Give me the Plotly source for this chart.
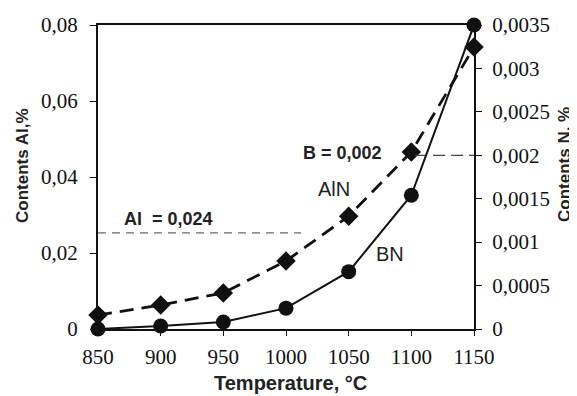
import plotly.graph_objects as go

temps = [850, 900, 950, 1000, 1050, 1100, 1150]
aln_al = [0.0037, 0.0063, 0.0095, 0.0179, 0.0297, 0.0466, 0.0742]   # left axis (Al, %)
bn_n = [0.0, 0.000035, 0.00008, 0.00024, 0.00066, 0.00154, 0.0035]   # right axis (N, %)

left_ticks = [0, 0.02, 0.04, 0.06, 0.08]
left_labels = ["0", "0,02", "0,04", "0,06", "0,08"]
right_ticks = [0, 0.0005, 0.001, 0.0015, 0.002, 0.0025, 0.003, 0.0035]
right_labels = ["0", "0,0005", "0,001", "0,0015", "0,002", "0,0025", "0,003", "0,0035"]
x_ticks = [850, 900, 950, 1000, 1050, 1100, 1150]

al_level_x = [850, 1012]
al_level_y = [0.0253, 0.0253]
b_level_x = [1103, 1150]
b_level_y = [0.002, 0.002]

fig = go.Figure()

fig.add_trace(go.Scatter(x=al_level_x, y=al_level_y, mode="lines",
                         line=dict(color="#666666", width=1.2, dash="8px,6px"),
                         showlegend=False, hoverinfo="skip"))
fig.add_trace(go.Scatter(x=b_level_x, y=b_level_y, mode="lines", yaxis="y2",
                         line=dict(color="#444444", width=1.2, dash="12px,6px"),
                         showlegend=False, hoverinfo="skip"))

fig.add_trace(go.Scatter(x=temps, y=aln_al, mode="lines+markers", name="AlN",
                         line=dict(color="#111111", width=2.8, dash="14px,8px"),
                         marker=dict(symbol="diamond", size=15, color="#111111"),
                         cliponaxis=False, showlegend=False))
fig.add_trace(go.Scatter(x=temps, y=bn_n, mode="lines+markers", name="BN", yaxis="y2",
                         line=dict(color="#111111", width=2),
                         marker=dict(symbol="circle", size=15, color="#111111"),
                         cliponaxis=False, showlegend=False))

tickfont = dict(family="Liberation Serif, Times New Roman, serif", size=21, color="#111111")

# page body has an 8px margin, so the figure is sized/offset to land the plot at 98..474 x 25..329
fig.update_layout(
    width=569, height=388,
    margin=dict(l=90, r=103, t=17, b=67, autoexpand=False),
    paper_bgcolor="white", plot_bgcolor="white",
    xaxis=dict(range=[850, 1150], tickvals=x_ticks, ticks="outside", ticklen=5,
               tickcolor="#111111", showline=True, linecolor="#111111", linewidth=2,
               mirror=True, showgrid=False, zeroline=False, tickfont=tickfont,
               ticklabelstandoff=3, automargin=False),
    yaxis=dict(range=[0, 0.08], tickvals=left_ticks, ticktext=left_labels,
               ticks="outside", ticklen=6, tickcolor="#111111", showline=True,
               linecolor="#111111", linewidth=2, showgrid=False, zeroline=False,
               tickfont=tickfont, ticklabelstandoff=8, automargin=False),
    yaxis2=dict(range=[0, 0.0035], tickvals=right_ticks, ticktext=right_labels,
                overlaying="y", side="right", ticks="outside", ticklen=6,
                tickcolor="#111111", showline=True, linecolor="#111111", linewidth=2,
                showgrid=False, zeroline=False, tickfont=tickfont, ticklabelstandoff=6,
                automargin=False),
    font=dict(family="Liberation Sans"),
)

title_font_h = dict(family="Liberation Sans", size=20, color="#222222", weight="bold")
title_font_v = dict(family="Liberation Sans", size=17, color="#222222", weight="bold")
fig.add_annotation(xref="paper", yref="paper", x=0, y=0.5, xanchor="center", yanchor="middle",
                   xshift=-76, yshift=11, textangle=-90, text="Contents Al,%",
                   showarrow=False, font=title_font_v)
fig.add_annotation(xref="paper", yref="paper", x=1, y=0.5, xanchor="center", yanchor="middle",
                   xshift=90, yshift=12, textangle=-90, text="Contents N, %",
                   showarrow=False, font=title_font_v)
fig.add_annotation(xref="paper", yref="paper", x=0.5, y=0, xanchor="center", yanchor="middle",
                   xshift=4, yshift=-54, text="Temperature, °C",
                   showarrow=False, font=title_font_h)

ann_font_b = dict(family="Liberation Sans", size=18, color="#222222", weight="bold")
ann_font = dict(family="Liberation Sans", size=20, color="#222222")
fig.add_annotation(x=1044.7, y=0.0463, text="B = 0,002", showarrow=False, font=ann_font_b)
fig.add_annotation(x=1038, y=0.0368, text="AlN", showarrow=False, font=ann_font)
fig.add_annotation(x=906.6, y=0.0289, text="Al  = 0,024", showarrow=False, font=ann_font_b)
fig.add_annotation(x=1083, y=0.0197, text="BN", showarrow=False, font=ann_font)

fig.write_html("out.html")
